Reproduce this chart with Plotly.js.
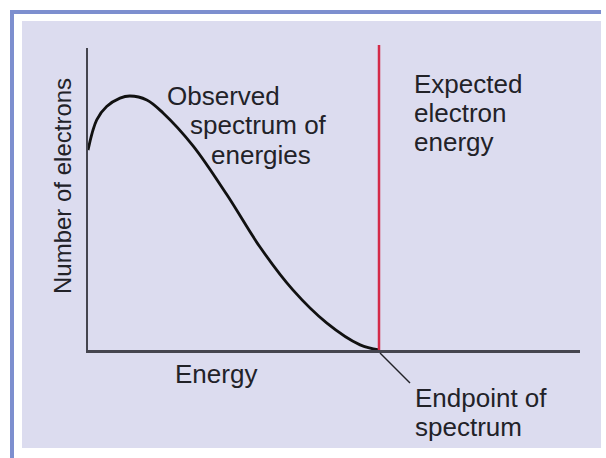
<!DOCTYPE html>
<html>
<head>
<meta charset="utf-8">
<script src="https://cdn.plot.ly/plotly-3.0.1.min.js"></script>
<style>html,body{margin:0;padding:0;background:#fff;}#chart{width:606px;height:458px;}</style>
</head>
<body>
<div id="chart"></div>
<script>
// ---- data ----
var energy    = [0, 0.30, 0.64, 1.10, 1.44, 2.02, 2.58, 3.61, 4.78, 5.91, 7.04, 8.21, 9.35, 10];
var electrons = [66.2, 76.2, 80.6, 83.4, 84.1, 82.8, 78.5, 67.6, 51.3, 34.1, 19.9, 8.9, 1.7, 0];
var expectedEnergy = [10];
var xTitle = ["Energy"];
var yTitle = ["Number of electrons"];
var observedLines = ["Observed", "spectrum of", "energies"];
var expectedLines = ["Expected", "electron", "energy"];
var endpointLines = ["Endpoint of", "spectrum"];

// ---- layout helpers (pixel -> paper) ----
var L = 88, R = 26, T = 48, B = 108, WW = 606, HH = 458;
var PW = WW - L - R, PH = HH - T - B;
function px(x) { return (x - L) / PW; }
function py(y) { return (HH - B - y) / PH; }
var FONT = '"Liberation Sans", Arial, Helvetica, sans-serif';
var TXT = '#222228';
var FS = 26;

var annotations = [];
function addLine(text, leftPx, baselinePx) {
  annotations.push({
    xref: 'paper', yref: 'paper', x: px(leftPx - 2), y: py(baselinePx - 9),
    xanchor: 'left', yanchor: 'middle', showarrow: false, text: text,
    font: {family: FONT, size: FS, color: TXT}
  });
}
var obsLeft = [167, 190, 211], obsBase = [105, 134, 164];
observedLines.forEach(function (t, i) { addLine(t, obsLeft[i], obsBase[i]); });
var expLeft = [414, 414, 414], expBase = [93, 122, 151];
expectedLines.forEach(function (t, i) { addLine(t, expLeft[i], expBase[i]); });
var endLeft = [415, 415], endBase = [407, 436];
endpointLines.forEach(function (t, i) { addLine(t, endLeft[i], endBase[i]); });

annotations.push({
  xref: 'paper', yref: 'paper', x: px(216), y: py(374), xanchor: 'center', yanchor: 'middle',
  showarrow: false, text: xTitle[0], font: {family: FONT, size: FS, color: TXT}
});
annotations.push({
  xref: 'paper', yref: 'paper', x: px(62), y: py(186), xanchor: 'center', yanchor: 'middle',
  textangle: -90, showarrow: false, text: yTitle[0], font: {family: FONT, size: 24, color: TXT}
});

var shapes = [
  // lavender panel
  {type: 'rect', xref: 'paper', yref: 'paper', layer: 'below',
   x0: px(22), x1: px(601), y0: py(448), y1: py(21),
   fillcolor: '#dcdcef', line: {width: 0}},
  // blue frame top and left
  {type: 'rect', xref: 'paper', yref: 'paper', layer: 'below',
   x0: px(10), x1: px(601), y0: py(14), y1: py(10),
   fillcolor: '#7d8fcf', line: {width: 0}},
  {type: 'rect', xref: 'paper', yref: 'paper', layer: 'below',
   x0: px(10), x1: px(14), y0: py(458), y1: py(10),
   fillcolor: '#7d8fcf', line: {width: 0}},
  // expected energy line
  {type: 'line', xref: 'x', yref: 'paper', x0: expectedEnergy[0], x1: expectedEnergy[0],
   y0: 0, y1: py(45), line: {color: '#d42a48', width: 2.5}},
  // leader line to endpoint label
  {type: 'line', xref: 'paper', yref: 'paper',
   x0: px(380), y0: py(353), x1: px(410), y1: py(383),
   line: {color: '#222228', width: 1.5}}
];

var trace = {
  x: energy, y: electrons, type: 'scatter', mode: 'lines',
  line: {color: '#111111', width: 2.8, shape: 'spline', smoothing: 1},
  hoverinfo: 'none'
};

var axisCommon = {showgrid: false, zeroline: false, showticklabels: false, ticks: '',
  showline: true, linecolor: '#45454f', fixedrange: true};

var layout = {
  width: WW, height: HH,
  margin: {l: L, r: R, t: T, b: B, pad: 0},
  paper_bgcolor: '#ffffff', plot_bgcolor: 'rgba(0,0,0,0)',
  showlegend: false,
  xaxis: Object.assign({}, axisCommon, {range: [0, 10 * PW / (379 - L)], linewidth: 2.5}),
  yaxis: Object.assign({}, axisCommon, {range: [0, 100], linewidth: 2}),
  shapes: shapes,
  annotations: annotations
};

Plotly.newPlot('chart', [trace], layout, {displayModeBar: false, staticPlot: true});
</script>
</body>
</html>
